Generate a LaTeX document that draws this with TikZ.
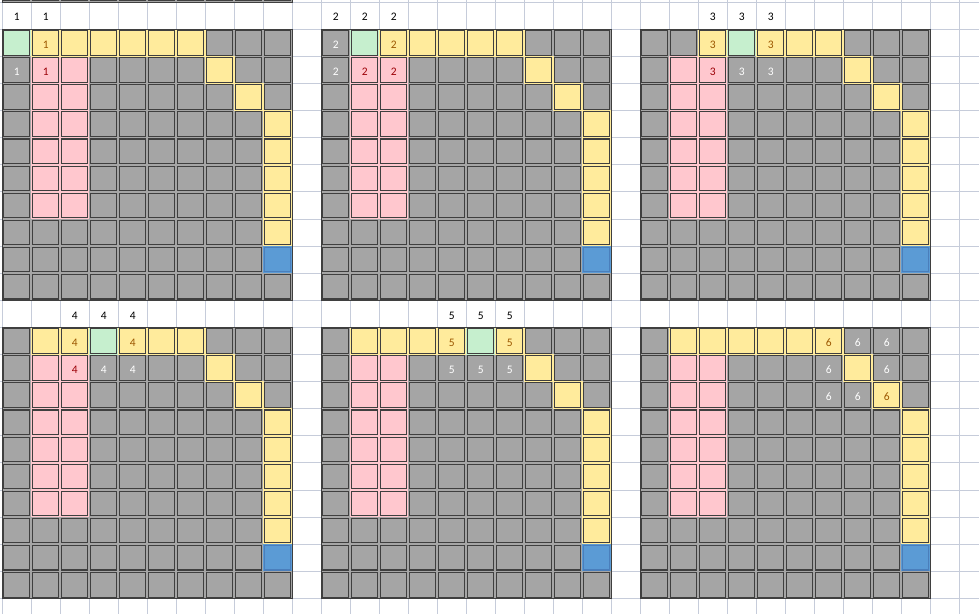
\documentclass[tikz,border=0pt]{standalone}
\usepackage{fontspec}
\setmainfont{Carlito}
\definecolor{cgray}{HTML}{A5A5A5}
\definecolor{cpink}{HTML}{FFC7CE}
\definecolor{cyel}{HTML}{FFEB9C}
\definecolor{cgreen}{HTML}{C6EFCE}
\definecolor{cblue}{HTML}{5B9BD5}
\definecolor{cbord}{HTML}{3F3F3F}
\definecolor{cbblue}{HTML}{4A7EBB}
\definecolor{tyel}{HTML}{9C5700}
\definecolor{tpink}{HTML}{9C0006}
\definecolor{gridc}{HTML}{C6CCDA}
\tikzset{
  gridl/.style={draw=gridc, line width=0.9pt},
  cellb/.style={draw=cbord, line width=1.1pt},
  outerb/.style={draw=cbord, line width=1.3pt},
  txt/.style={font=\fontsize{11.5}{13}\selectfont, inner sep=0pt},
  tw/.style={txt, text=white},
  ty/.style={txt, text=tyel},
  tp/.style={txt, text=tpink},
  tk/.style={txt, text=black}
}
\newcommand\cellx[4]{%
  \fill[#3] (#1,#2) rectangle ++(1,1);
  \draw[cellb, draw=#4] ([xshift=1.3pt,yshift=-1.3pt]#1,#2) rectangle ([xshift=-1.3pt,yshift=1.3pt]#1+1,#2+1);}
\newcommand\ycell[2]{%
  \fill[cyel] ([xshift=-0.5pt,yshift=0.5pt]#1,#2) rectangle ([xshift=0.5pt,yshift=-0.5pt]#1+1,#2+1);
  \draw[cellb] ([xshift=1.3pt,yshift=-1.3pt]#1,#2) rectangle ([xshift=-1.3pt,yshift=1.3pt]#1+1,#2+1);}
\newcommand\boardbase[2]{%
  \foreach \r in {0,...,9}{\foreach \c in {0,...,9}{\cellx{#1+\c}{#2+\r}{cgray}{cbord}}}
  \foreach \r in {1,...,6}{\foreach \c in {1,2}{\cellx{#1+\c}{#2+\r}{cpink}{cbord}}}
  \ycell{#1+7}{#2+1}
  \ycell{#1+8}{#2+2}
  \foreach \r in {3,...,7}{\ycell{#1+9}{#2+\r}}
  \cellx{#1+9}{#2+8}{cblue}{cbblue}}
\begin{document}
\begin{tikzpicture}[x=29pt,y=-27.1pt]
\useasboundingbox (0pt,0pt) rectangle (979pt,-613pt);
\clip (0pt,0pt) rectangle (979pt,-613pt);
\begin{scope}[shift={(2.2pt,-2.2pt)}]
% spreadsheet grid
\foreach \i in {-1,...,34}{\draw[gridl] (\i,-2) -- (\i,24);}
\foreach \j in {-1,...,23}{\draw[gridl] (-1,\j) -- (35,\j);}
% partial board above
\foreach \c in {0,...,9}{\cellx{\c}{-1}{cgray}{cbord}}
\draw[outerb] (0,-2) rectangle (10,0);
% ---------- board 1
\boardbase{0}{1}
\cellx{0}{1}{cgreen}{cbord}
\foreach \c in {1,...,6}{\ycell{\c}{1}}
\node[tk] (l1a) at ([yshift=-1.5pt]0.5,0.5) {1};
\node[tk] (l1b) at ([yshift=-1.5pt]1.5,0.5) {1};
\node[ty] (a1) at ([yshift=-1.5pt]1.5,1.5) {1};
\node[tw] (a2) at ([yshift=-1.5pt]0.5,2.5) {1};
\node[tp] (a3) at ([yshift=-1.5pt]1.5,2.5) {1};
\draw[outerb] (0,1) rectangle (10,11);
% ---------- board 2
\boardbase{11}{1}
\cellx{12}{1}{cgreen}{cbord}
\foreach \c in {13,...,17}{\ycell{\c}{1}}
\node[tk] (l2a) at ([yshift=-1.5pt]11.5,0.5) {2};
\node[tk] (l2b) at ([yshift=-1.5pt]12.5,0.5) {2};
\node[tk] (l2c) at ([yshift=-1.5pt]13.5,0.5) {2};
\node[tw] (b1) at ([yshift=-1.5pt]11.5,1.5) {2};
\node[ty] (b2) at ([yshift=-1.5pt]13.5,1.5) {2};
\node[tw] (b3) at ([yshift=-1.5pt]11.5,2.5) {2};
\node[tp] (b4) at ([yshift=-1.5pt]12.5,2.5) {2};
\node[tp] (b5) at ([yshift=-1.5pt]13.5,2.5) {2};
\draw[outerb] (11,1) rectangle (21,11);
% ---------- board 3
\boardbase{22}{1}
\ycell{24}{1}
\cellx{25}{1}{cgreen}{cbord}
\foreach \c in {26,27,28}{\ycell{\c}{1}}
\node[tk] (l3a) at ([yshift=-1.5pt]24.5,0.5) {3};
\node[tk] (l3b) at ([yshift=-1.5pt]25.5,0.5) {3};
\node[tk] (l3c) at ([yshift=-1.5pt]26.5,0.5) {3};
\node[ty] (c1) at ([yshift=-1.5pt]24.5,1.5) {3};
\node[ty] (c2) at ([yshift=-1.5pt]26.5,1.5) {3};
\node[tp] (c3) at ([yshift=-1.5pt]24.5,2.5) {3};
\node[tw] (c4) at ([yshift=-1.5pt]25.5,2.5) {3};
\node[tw] (c5) at ([yshift=-1.5pt]26.5,2.5) {3};
\draw[outerb] (22,1) rectangle (32,11);
% ---------- board 4
\boardbase{0}{12}
\ycell{1}{12}
\ycell{2}{12}
\cellx{3}{12}{cgreen}{cbord}
\foreach \c in {4,5,6}{\ycell{\c}{12}}
\node[tk] (l4a) at ([yshift=-1.5pt]2.5,11.5) {4};
\node[tk] (l4b) at ([yshift=-1.5pt]3.5,11.5) {4};
\node[tk] (l4c) at ([yshift=-1.5pt]4.5,11.5) {4};
\node[ty] (d1) at ([yshift=-1.5pt]2.5,12.5) {4};
\node[ty] (d2) at ([yshift=-1.5pt]4.5,12.5) {4};
\node[tp] (d3) at ([yshift=-1.5pt]2.5,13.5) {4};
\node[tw] (d4) at ([yshift=-1.5pt]3.5,13.5) {4};
\node[tw] (d5) at ([yshift=-1.5pt]4.5,13.5) {4};
\draw[outerb] (0,12) rectangle (10,22);
% ---------- board 5
\boardbase{11}{12}
\foreach \c in {12,...,15}{\ycell{\c}{12}}
\cellx{16}{12}{cgreen}{cbord}
\ycell{17}{12}
\node[tk] (l5a) at ([yshift=-1.5pt]15.5,11.5) {5};
\node[tk] (l5b) at ([yshift=-1.5pt]16.5,11.5) {5};
\node[tk] (l5c) at ([yshift=-1.5pt]17.5,11.5) {5};
\node[ty] (e1) at ([yshift=-1.5pt]15.5,12.5) {5};
\node[ty] (e2) at ([yshift=-1.5pt]17.5,12.5) {5};
\node[tw] (e3) at ([yshift=-1.5pt]15.5,13.5) {5};
\node[tw] (e4) at ([yshift=-1.5pt]16.5,13.5) {5};
\node[tw] (e5) at ([yshift=-1.5pt]17.5,13.5) {5};
\draw[outerb] (11,12) rectangle (21,22);
% ---------- board 6
\boardbase{22}{12}
\foreach \c in {23,...,28}{\ycell{\c}{12}}
\node[ty] (f1) at ([yshift=-1.5pt]28.5,12.5) {6};
\node[tw] (f2) at ([yshift=-1.5pt]29.5,12.5) {6};
\node[tw] (f3) at ([yshift=-1.5pt]30.5,12.5) {6};
\node[tw] (f4) at ([yshift=-1.5pt]28.5,13.5) {6};
\node[tw] (f5) at ([yshift=-1.5pt]30.5,13.5) {6};
\node[tw] (f6) at ([yshift=-1.5pt]28.5,14.5) {6};
\node[tw] (f7) at ([yshift=-1.5pt]29.5,14.5) {6};
\node[ty] (f8) at ([yshift=-1.5pt]30.5,14.5) {6};
\draw[outerb] (22,12) rectangle (32,22);
\end{scope}
\end{tikzpicture}
\end{document}
